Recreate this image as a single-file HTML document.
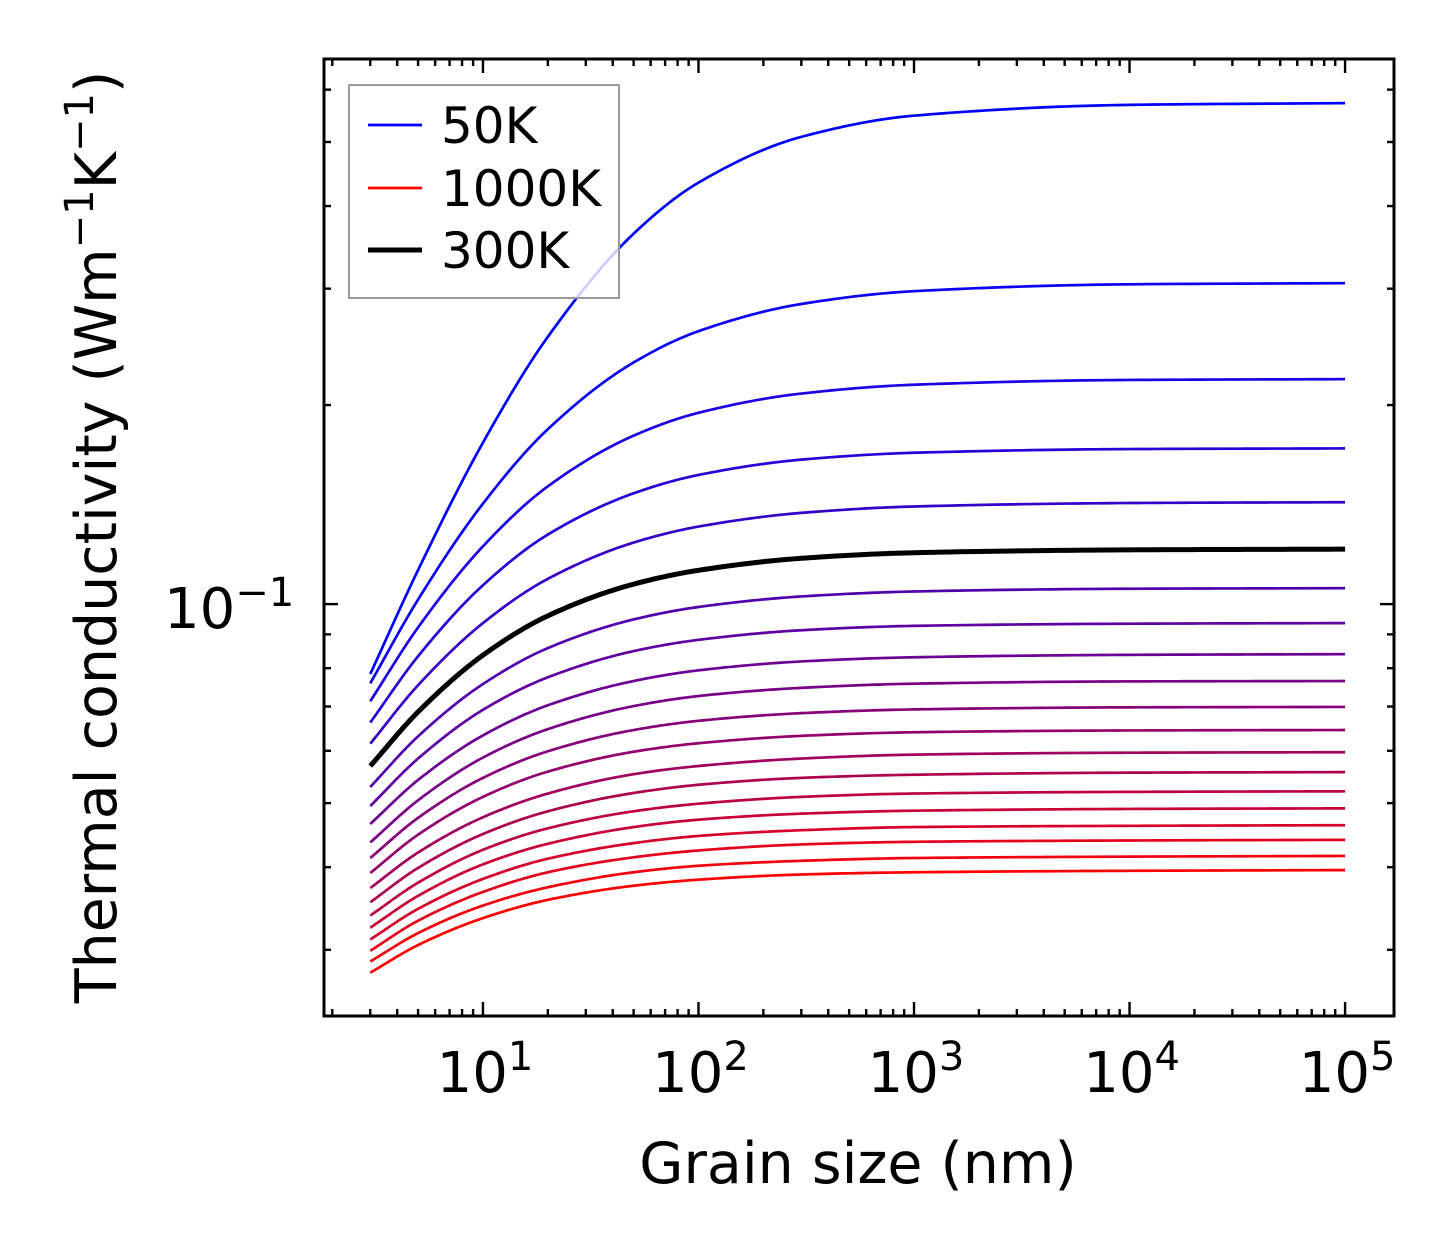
<!DOCTYPE html>
<html><head><meta charset="utf-8"><style>
html,body{margin:0;padding:0;background:#fff;}
svg{display:block;font-family:"DejaVu Sans","Liberation Sans",sans-serif;}
</style></head><body>
<svg id="chart" width="1454" height="1254" viewBox="0 0 1454 1254" xmlns="http://www.w3.org/2000/svg">
<rect width="1454" height="1254" fill="#fff"/>
<g id="ticks"></g>
<g id="curves"></g>
<rect x="324" y="59" width="1070" height="957" fill="none" stroke="#000" stroke-width="3"/>
<g id="labels" font-size="56" fill="#000"></g>
<text x="858" y="1183" font-size="57" text-anchor="middle">Grain size (nm)</text>
<text transform="translate(116,537) rotate(-90)" font-size="57" text-anchor="middle">Thermal conductivity (Wm<tspan baseline-shift="super" font-size="40">−1</tspan>K<tspan baseline-shift="super" font-size="40">−1</tspan>)</text>
<g>
<rect x="349" y="85" width="270" height="213" fill="#fff" fill-opacity="0.8" stroke="#999" stroke-width="2"/>
<line x1="368" y1="125" x2="422" y2="125" stroke="#0000ff" stroke-width="2.7"/>
<text x="441" y="143" font-size="50">50K</text>
<line x1="368" y1="188" x2="422" y2="188" stroke="#ff0000" stroke-width="2.7"/>
<text x="441" y="206" font-size="50">1000K</text>
<line x1="368" y1="250" x2="422" y2="250" stroke="#000" stroke-width="5"/>
<text x="441" y="268" font-size="50">300K</text>
</g>
</svg>
<script>
const grainSizes = [3, 5, 10, 20, 50, 100, 300, 1000, 10000, 100000];
const k01 = [0.0784,0.1126,0.1755,0.2537,0.3633,0.434,0.509,0.548,0.569,0.5725];
const k02 = [0.0759,0.1016,0.1419,0.1839,0.2320,0.2587,0.2844,0.2974,0.3046,0.3058];
const k03 = [0.0713,0.0922,0.1223,0.1507,0.1798,0.1947,0.2082,0.2147,0.2183,0.2189];
const k04 = [0.0662,0.0834,0.1068,0.1274,0.1471,0.1568,0.1654,0.1694,0.1716,0.1720];
const k05 = [0.0615,0.0754,0.0936,0.1092,0.1239,0.1310,0.1374,0.1405,0.1422,0.1426];
const k06 = [0.0569,0.0687,0.0837,0.0960,0.1072,0.1125,0.1173,0.1196,0.1208,0.1211];
const k07 = [0.0529,0.0631,0.0757,0.0858,0.0948,0.0990,0.1027,0.1045,0.1055,0.1057];
const k08 = [0.0495,0.0584,0.0692,0.0775,0.0849,0.0883,0.0913,0.0927,0.0934,0.0936];
const k09 = [0.0465,0.0542,0.0633,0.0703,0.0765,0.0794,0.0819,0.0831,0.0838,0.0840];
const k10 = [0.0436,0.0505,0.0586,0.0647,0.0701,0.0726,0.0747,0.0758,0.0764,0.0765];
const k11 = [0.0413,0.0475,0.0546,0.0599,0.0645,0.0666,0.0684,0.0693,0.0698,0.0699];
const k12 = [0.0392,0.0448,0.0511,0.0558,0.0598,0.0616,0.0632,0.0640,0.0644,0.0645];
const k13 = [0.0372,0.0421,0.0476,0.0517,0.0553,0.0569,0.0584,0.0592,0.0596,0.0597];
const k14 = [0.0354,0.0399,0.0449,0.0486,0.0518,0.0533,0.0546,0.0552,0.0556,0.0557];
const k15 = [0.0338,0.0379,0.0425,0.0458,0.0486,0.0499,0.0511,0.0517,0.0520,0.0521];
const k16 = [0.0324,0.0362,0.0404,0.0434,0.0460,0.0472,0.0482,0.0487,0.0490,0.0491];
const k17 = [0.0311,0.0346,0.0384,0.0412,0.0435,0.0446,0.0455,0.0460,0.0462,0.0463];
const k18 = [0.0299,0.0332,0.0367,0.0393,0.0414,0.0424,0.0433,0.0437,0.0439,0.0440];
const k19 = [0.0288,0.0318,0.0350,0.0373,0.0393,0.0402,0.0409,0.0413,0.0415,0.0416];
const k20 = [0.0277,0.0305,0.0335,0.0357,0.0375,0.0383,0.0390,0.0393,0.0395,0.0396];
const seriesList = [k01,k02,k03,k04,k05,k06,k07,k08,k09,k10,k11,k12,k13,k14,k15,k16,k17,k18,k19,k20];
const highlightIndex = 5;
const xTickExps = [1,2,3,4,5];
const yMajorTicks = [0.1];
const yMinorTicks = [0.03,0.04,0.05,0.06,0.07,0.08,0.09,0.2,0.3,0.4,0.5,0.6];

const NS = "http://www.w3.org/2000/svg";
const L = 324, R = 1394, T = 59, B = 1016;
const xLogMin = Math.log10(1.83), xLogMax = 5.227;
const yLogMin = -1.623, yLogMax = -0.1755;
function xs(v){ return L + (Math.log10(v)-xLogMin)/(xLogMax-xLogMin)*(R-L); }
function ys(v){ return B - (Math.log10(v)-yLogMin)/(yLogMax-yLogMin)*(B-T); }

const tg = document.getElementById('ticks');
function tick(x1,y1,x2,y2,name){
  const l = document.createElementNS(NS,'line');
  l.setAttribute('x1',x1); l.setAttribute('y1',y1); l.setAttribute('x2',x2); l.setAttribute('y2',y2);
  l.setAttribute('stroke','#000'); l.setAttribute('stroke-width','2.4');
  
  
  tg.appendChild(l);
}
const lg = document.getElementById('labels');
for (let e = 0; e <= 5; e++) {
  for (let m = 1; m <= 9; m++) {
    const v = m*Math.pow(10,e);
    const lv = Math.log10(v);
    if (lv < xLogMin || lv > xLogMax) continue;
    const x = xs(v);
    const len = m === 1 ? 14 : 7;
    tick(x,B,x,B-len,'x-tick'); tick(x,T,x,T+len,'x-tick-top');
  }
}
xTickExps.forEach(e => {
  const t = document.createElementNS(NS,'text');
  t.setAttribute('x', xs(Math.pow(10,e)) + 2); t.setAttribute('y', 1092);
  t.setAttribute('text-anchor','middle');
  t.innerHTML = '10<tspan dy="-22" font-size="40">' + e + '</tspan>';
  
  
  lg.appendChild(t);
});
yMajorTicks.forEach(v => {
  const y = ys(v);
  tick(L,y,L+14,y,'y-tick'); tick(R,y,R-14,y,'y-tick-right');
  const t = document.createElementNS(NS,'text');
  t.setAttribute('x', 164); t.setAttribute('y', y + 24);
  t.innerHTML = '10<tspan dy="-22" font-size="40">−1</tspan>';
  
  
  lg.appendChild(t);
});
yMinorTicks.forEach(v => {
  const y = ys(v);
  tick(L,y,L+7,y,'y-minor-tick'); tick(R,y,R-7,y,'y-minor-tick-right');
});

// monotone cubic (Fritsch-Carlson) interpolation in log-log space, sampled densely
function pathFor(vals){
  const X = grainSizes.map(g=>Math.log10(g)), Y = vals.map(v=>Math.log10(v));
  const n = X.length, d = [], m = new Array(n);
  for (let i=0;i<n-1;i++) d.push((Y[i+1]-Y[i])/(X[i+1]-X[i]));
  m[0]=d[0]; m[n-1]=d[n-2];
  for (let i=1;i<n-1;i++){
    if (d[i-1]*d[i] <= 0) m[i]=0;
    else { const h0=X[i]-X[i-1], h1=X[i+1]-X[i]; const w1=2*h1+h0, w2=h1+2*h0; m[i]=(w1+w2)/(w1/d[i-1]+w2/d[i]); }
  }
  let s = '';
  for (let i=0;i<n-1;i++){
    const h = X[i+1]-X[i];
    const steps = 24;
    for (let k=(i===0?0:1);k<=steps;k++){
      const t=k/steps, t2=t*t, t3=t2*t;
      const y = (2*t3-3*t2+1)*Y[i] + (t3-2*t2+t)*h*m[i] + (-2*t3+3*t2)*Y[i+1] + (t3-t2)*h*m[i+1];
      const x = X[i]+t*h;
      const px = xs(Math.pow(10,x)), py = ys(Math.pow(10,y));
      s += (s===''?'M':' L') + px.toFixed(2) + ',' + py.toFixed(2);
    }
  }
  return s;
}
const cg = document.getElementById('curves');
const n = seriesList.length;
seriesList.forEach((vals, i) => {
  if (i === highlightIndex) return;
  const f = i/(n-1);
  const path = document.createElementNS(NS,'path');
  path.setAttribute('d', pathFor(vals));
  path.setAttribute('fill','none');
  path.setAttribute('stroke', 'rgb(' + Math.round(255*f) + ',0,' + Math.round(255*(1-f)) + ')');
  path.setAttribute('stroke-width','2.7');
  
  
  cg.appendChild(path);
});
const hp = document.createElementNS(NS,'path');
hp.setAttribute('d', pathFor(seriesList[highlightIndex]));
hp.setAttribute('fill','none');
hp.setAttribute('stroke','#000');
hp.setAttribute('stroke-width','5');


cg.appendChild(hp);
</script>
</body></html>
